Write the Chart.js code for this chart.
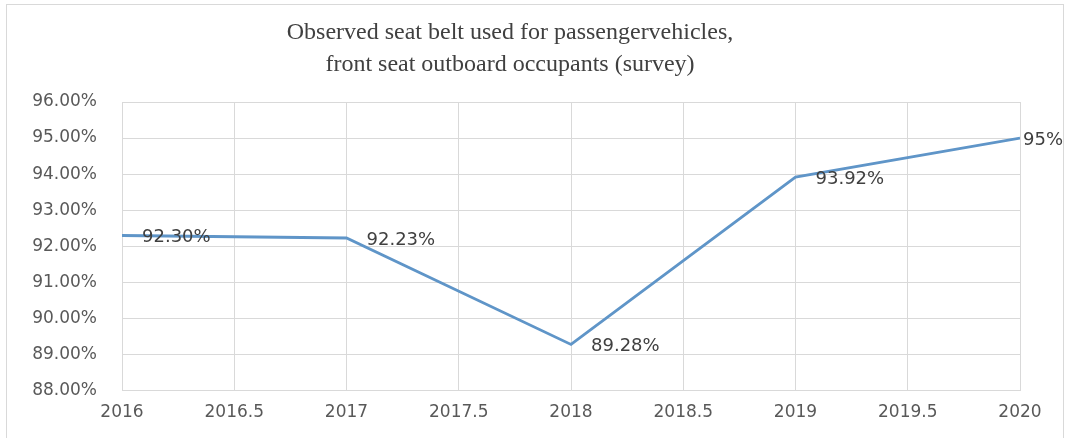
<!DOCTYPE html>
<html>
<head>
<meta charset="utf-8">
<script src="https://cdn.jsdelivr.net/npm/chart.js@4"></script>
<style>
  html, body { margin: 0; padding: 0; background: #ffffff; }
  #wrap { position: relative; width: 1065px; height: 438px; overflow: hidden; }
  #frame { position: absolute; left: 6px; top: 4px; width: 1056px; height: 450px;
           border: 1px solid #d9d9d9; pointer-events: none; }
</style>
</head>
<body>
<div id="wrap">
  <canvas id="beltChart" width="1065" height="438"></canvas>
  <div id="frame"></div>
</div>
<script>
// Data
const years = [2016, 2017, 2018, 2019, 2020];
const usageRates = [92.30, 92.23, 89.28, 93.92, 95];
const pointLabels = ['92.30%', '92.23%', '89.28%', '93.92%', '95%'];
const titleLines = [
    'Observed seat belt used for passengervehicles,',
    'front seat outboard occupants (survey)'
];

const gridColor = '#d9d9d9';
const textColor = '#595959';

// Value labels drawn to the right of each point
const valueLabels = {
    id: 'valueLabels',
    afterDatasetsDraw(chart) {
        const ctx = chart.ctx;
        const meta = chart.getDatasetMeta(0);
        ctx.save();
        ctx.font = '18px "DejaVu Sans"';
        ctx.fillStyle = '#404040';
        ctx.textAlign = 'left';
        ctx.textBaseline = 'middle';
        meta.data.forEach((pt, i) => {
            const text = pointLabels[i];
            const w = ctx.measureText(text).width;
            let x = pt.x + 20;
            if (x + w > chart.width - 2) x = chart.width - 2 - w;
            ctx.fillText(text, x, pt.y + 2);
        });
        ctx.restore();
    }
};

new Chart(document.getElementById('beltChart'), {
    type: 'line',
    data: {
        datasets: [{
            data: years.map((y, i) => ({ x: y, y: usageRates[i] })),
            borderColor: '#5f95c8',
            borderWidth: 2.8,
            pointRadius: 0,
            tension: 0,
            fill: false
        }]
    },
    options: {
        responsive: false,
        animation: false,
        layout: { padding: { left: 0, right: 45, top: 7, bottom: 3 } },
        plugins: {
            legend: { display: false },
            tooltip: { enabled: false },
            title: {
                display: true,
                text: titleLines,
                color: '#404040',
                font: { family: '"Liberation Serif"', size: 24, weight: 'normal', lineHeight: 32 / 24 },
                padding: { top: 10, bottom: 21 }
            }
        },
        scales: {
            x: {
                type: 'linear',
                min: 2016,
                max: 2020,
                ticks: {
                    stepSize: 0.5,
                    color: textColor,
                    padding: 12,
                    font: { family: '"DejaVu Sans"', size: 17 },
                    callback: v => String(v)
                },
                grid: { color: gridColor, drawTicks: false },
                border: { color: gridColor }
            },
            y: {
                min: 88,
                max: 96,
                afterFit: scale => { scale.width = 122; },
                ticks: {
                    stepSize: 1,
                    color: textColor,
                    padding: 25,
                    font: { family: '"DejaVu Sans"', size: 17 },
                    callback: v => v.toFixed(2) + '%'
                },
                grid: { color: gridColor, drawTicks: false },
                border: { color: gridColor }
            }
        }
    },
    plugins: [valueLabels]
});
</script>
</body>
</html>
